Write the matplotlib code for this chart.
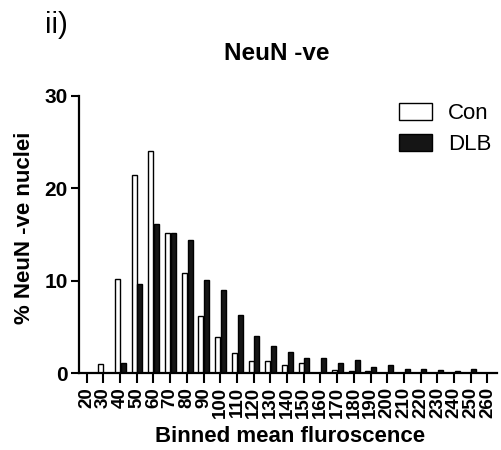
import numpy as np
import matplotlib
matplotlib.use("Agg")
import matplotlib.pyplot as plt

plt.rcParams['font.family'] = ['Liberation Sans', 'DejaVu Sans']

# binned mean fluorescence (bin labels)
bins = [20, 30, 40, 50, 60, 70, 80, 90, 100, 110, 120, 130, 140, 150, 160,
        170, 180, 190, 200, 210, 220, 230, 240, 250, 260]

# % NeuN -ve nuclei
con = [0, 1.0, 10.2, 21.4, 24.0, 15.2, 10.8, 6.2, 3.9, 2.15, 1.3, 1.3, 0.9,
       1.1, 0, 0.35, 0.2, 0.3, 0, 0, 0, 0, 0, 0, 0]
dlb = [0, 0, 1.1, 9.6, 16.1, 15.2, 14.4, 10.1, 9.0, 6.3, 4.0, 2.95, 2.25,
       1.7, 1.7, 1.1, 1.4, 0.65, 0.85, 0.45, 0.5, 0.35, 0.3, 0.5, 0]

x = np.arange(len(bins))
w = 0.3

fig = plt.figure(figsize=(5.01, 4.5), dpi=100)
ax = fig.add_axes([79/501, 1 - 373.3/450, 418/501, 277.6/450])

ax.bar(x - 0.16, con, width=w, color='white', edgecolor='black',
       linewidth=1.0, label='Con')
ax.bar(x + 0.19, dlb, width=w, color='#151515', edgecolor='black',
       linewidth=1.0, label='DLB')

ax.set_xlim(-0.46, 24.57)
ax.set_ylim(0, 30)
ax.set_yticks([0, 10, 20, 30])
ax.set_xticks(x)
ax.set_xticklabels([str(b) for b in bins], rotation=90, fontsize=13.5,
                   fontweight='bold')
for lab in ax.get_yticklabels():
    lab.set_fontsize(15)
    lab.set_fontweight('bold')

for s in ['top', 'right']:
    ax.spines[s].set_visible(False)
for s in ['left', 'bottom']:
    ax.spines[s].set_linewidth(1.6)
ax.tick_params(axis='x', length=7, width=1.5, pad=3)
ax.tick_params(axis='y', length=6, width=1.5, pad=2)

ax.set_ylabel('% NeuN -ve nuclei', fontsize=16, fontweight='bold')
ax.yaxis.set_label_coords(-0.105, 0.523)
ax.set_xlabel('Binned mean fluroscence', fontsize=16, fontweight='bold')
ax.xaxis.set_label_coords(0.505, -0.19)

ax.legend(loc='upper right', bbox_to_anchor=(1.035, 1.045), frameon=False,
          fontsize=16, handlelength=1.45, handleheight=0.75,
          handletextpad=0.75, labelspacing=0.45)

fig.text(277/501, 1 - 60/450, 'NeuN -ve', ha='center', va='baseline',
         fontsize=17.5, fontweight='bold')
fig.text(45/501, 1 - 11/450, 'ii)', ha='left', va='top', fontsize=21)

fig.savefig('out.png', dpi=100)
